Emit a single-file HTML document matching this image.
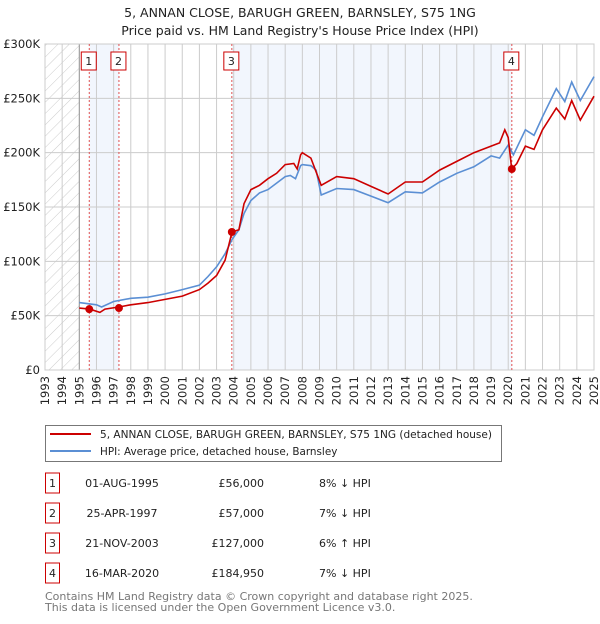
<!DOCTYPE html>
<html><head><meta charset="utf-8"><style>
body{margin:0;background:#fff;font-family:"DejaVu Sans","Liberation Sans",sans-serif;}
svg text{font-family:"DejaVu Sans","Liberation Sans",sans-serif;}
</style></head><body>
<svg id="chart" width="600" height="620" viewBox="0 0 600 620">
<defs><pattern id="hatch" width="8" height="8" patternUnits="userSpaceOnUse" patternTransform="rotate(45)"><line x1="0" y1="0" x2="0" y2="8" stroke="#ccc" stroke-width="1"/></pattern></defs>
<text x="300" y="17" text-anchor="middle" font-size="12.5" fill="#222">5, ANNAN CLOSE, BARUGH GREEN, BARNSLEY, S75 1NG</text>
<text x="300" y="35" text-anchor="middle" font-size="12.5" fill="#222">Price paid vs. HM Land Registry's House Price Index (HPI)</text>
<g id="plot"></g>
<g>
<rect x="45.5" y="425.5" width="456" height="36" fill="#fff" stroke="#777"/>
<line x1="50" y1="434" x2="91" y2="434" stroke="#cc0000" stroke-width="2"/>
<text x="100" y="438" font-size="10.4" fill="#222" textLength="392" lengthAdjust="spacingAndGlyphs">5, ANNAN CLOSE, BARUGH GREEN, BARNSLEY, S75 1NG (detached house)</text>
<line x1="50" y1="451" x2="91" y2="451" stroke="#5b8fd4" stroke-width="2"/>
<text x="100" y="455" font-size="10.4" fill="#222">HPI: Average price, detached house, Barnsley</text>
</g>
<g id="table" font-size="11" fill="#222"></g>
<text x="45" y="600" font-size="11" fill="#777">Contains HM Land Registry data © Crown copyright and database right 2025.</text>
<text x="45" y="611" font-size="11" fill="#777">This data is licensed under the Open Government Licence v3.0.</text>
</svg>
<script>
const hpiYears=[1995,1996,1996.3,1997,1998,1999,2000,2001,2002,2002.5,2003,2003.5,2003.9,2004.3,2004.6,2005,2005.5,2006,2006.5,2007,2007.3,2007.6,2007.9,2008,2008.5,2008.8,2009.1,2010,2011,2012,2013,2014,2015,2016,2017,2018,2019,2019.5,2020,2020.3,2021,2021.5,2022,2022.8,2023.3,2023.7,2024.2,2025];
const hpiValues=[62,60,58,63,66,67,70,74,78,86,95,107,120,129,144,156,163,166,172,178,179,176,188,189,188,184,161,167,166,160,154,164,163,173,181,187,197,195,207,198,221,216,233,259,247,265,248,270];
const priceYears=[1995,1995.6,1996.2,1996.5,1997.3,1998,1999,2000,2001,2002,2002.5,2003,2003.5,2003.9,2004.3,2004.6,2005,2005.5,2006,2006.5,2007,2007.5,2007.7,2007.9,2008,2008.5,2009.1,2010,2011,2012,2013,2014,2015,2016,2017,2018,2019,2019.5,2019.8,2020.0,2020.2,2020.5,2021,2021.5,2022,2022.8,2023.3,2023.7,2024.2,2025];
const priceValues=[57,56,53,56,58,60,62,65,68,74,80,87,101,127,129,153,166,170,176,181,189,190,185,198,200,195,170,178,176,169,162,173,173,184,192,200,206,209,221,214,185,190,206,203,221,241,231,248,230,252];
const saleLabels=["1","2","3","4"];
const saleYears=[1995.58,1997.31,2003.89,2020.21];
const saleValues=[56,57,127,184.95];
const saleDates=["01-AUG-1995","25-APR-1997","21-NOV-2003","16-MAR-2020"];
const salePrices=["£56,000","£57,000","£127,000","£184,950"];
const saleHpi=["8% ↓ HPI","7% ↓ HPI","6% ↑ HPI","7% ↓ HPI"];
const yTicks=[0,50,100,150,200,250,300];
const yTickLabels=["£0","£50K","£100K","£150K","£200K","£250K","£300K"];
const xTicks=[1993,1994,1995,1996,1997,1998,1999,2000,2001,2002,2003,2004,2005,2006,2007,2008,2009,2010,2011,2012,2013,2014,2015,2016,2017,2018,2019,2020,2021,2022,2023,2024,2025];

const NS="http://www.w3.org/2000/svg";
const X0=45,X1=594,Y0=370,Y1=44;
const xs=y=>X0+(y-1993)/(2025-1993)*(X1-X0);
const ys=v=>Y0-v/300*(Y0-Y1);
const plot=document.getElementById('plot');
function mk(tag,attrs,parent){const e=document.createElementNS(NS,tag);for(const k in attrs)e.setAttribute(k,attrs[k]);(parent||plot).appendChild(e);return e;}

const bg=mk('rect',{x:X0,y:Y1,width:X1-X0,height:Y0-Y1,fill:'#fff'});


const hatch=mk('rect',{x:xs(1993),y:Y1,width:xs(1995)-xs(1993),height:Y0-Y1,fill:'url(#hatch)'});


[[0,1],[2,3]].forEach(p=>{
  const r=mk('rect',{x:xs(saleYears[p[0]]),y:Y1,width:xs(saleYears[p[1]])-xs(saleYears[p[0]]),height:Y0-Y1,fill:'#eef3fc',opacity:0.75});
  
  
});
xTicks.forEach(t=>{
  const l=mk('line',{x1:xs(t),x2:xs(t),y1:Y1,y2:Y0,stroke:'#ccc','stroke-width':1});
  
  
  const tx=mk('text',{x:0,y:0,'font-size':11.5,fill:'#222','text-anchor':'end',transform:`translate(${xs(t)+4},${Y0+6}) rotate(-90)`});
  tx.textContent=t;
  
  
});
yTicks.forEach((t,i)=>{
  const l=mk('line',{x1:X0,x2:X1,y1:ys(t),y2:ys(t),stroke:'#ccc','stroke-width':1});
  
  
  const tx=mk('text',{x:40,y:ys(t)+4,'font-size':11.5,fill:'#222','text-anchor':'end'});
  tx.textContent=yTickLabels[i];
  
  
});
const ax=mk('line',{x1:xs(1995),x2:xs(1995),y1:Y1,y2:Y0,stroke:'#999','stroke-width':1});


const frame=mk('rect',{x:X0,y:Y1,width:X1-X0,height:Y0-Y1,fill:'none',stroke:'#ccc'});


saleYears.forEach((y,i)=>{
  const l=mk('line',{x1:xs(y),x2:xs(y),y1:Y1,y2:Y0,stroke:'#e05050','stroke-width':1,'stroke-dasharray':'2,2'});
  
  
  const r=mk('rect',{x:xs(y)-8,y:52,width:15,height:18,fill:'#fff',stroke:'#cc0000'});
  
  
  const t=mk('text',{x:xs(y)-0.5,y:65,'font-size':11,fill:'#222','text-anchor':'middle'});
  t.textContent=saleLabels[i];
  
  
});
function pathOf(xa,va){return xa.map((x,i)=>(i?'L':'M')+xs(x).toFixed(1)+','+ys(va[i]).toFixed(1)).join('');}
const hp=mk('path',{d:pathOf(hpiYears,hpiValues),fill:'none',stroke:'#5b8fd4','stroke-width':1.6});


const pp=mk('path',{d:pathOf(priceYears,priceValues),fill:'none',stroke:'#cc0000','stroke-width':1.6});


saleYears.forEach((y,i)=>{
  const c=mk('circle',{cx:xs(y),cy:ys(saleValues[i]),r:4,fill:'#cc0000'});
  
  
});
const tbl=document.getElementById('table');
saleLabels.forEach((s,i)=>{
  const cy=483+i*30;
  const r=mk('rect',{x:45.5,y:cy-10,width:14,height:20,fill:'#fff',stroke:'#cc0000'},tbl);
  
  
  const a=mk('text',{x:52.5,y:cy+4,'text-anchor':'middle'},tbl);a.textContent=s;
  
  
  const d=mk('text',{x:122,y:cy+4,'text-anchor':'middle'},tbl);d.textContent=saleDates[i];
  
  
  const p=mk('text',{x:264,y:cy+4,'text-anchor':'end'},tbl);p.textContent=salePrices[i];
  
  
  const h=mk('text',{x:319,y:cy+4},tbl);h.textContent=saleHpi[i];
  
  
});
</script>
</body></html>
